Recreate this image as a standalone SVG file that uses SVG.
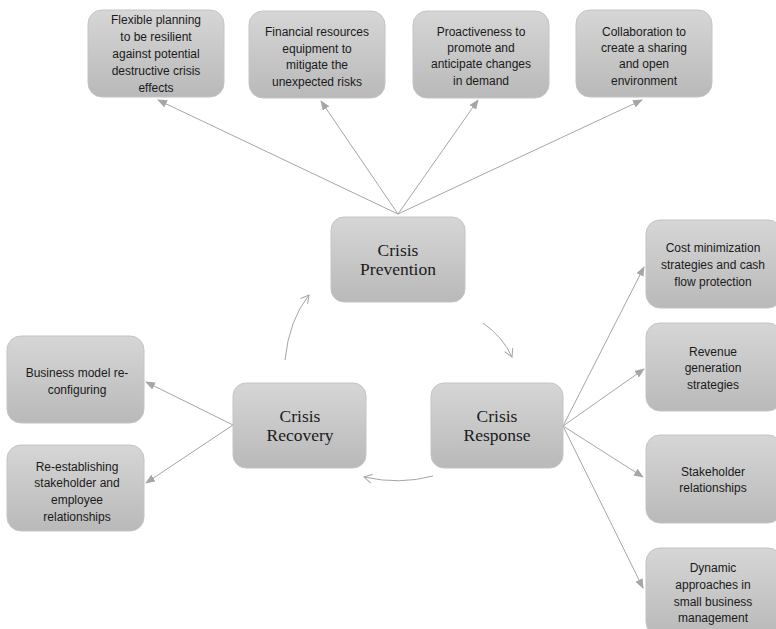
<svg xmlns="http://www.w3.org/2000/svg" width="776" height="629" viewBox="0 0 776 629">
<style>
.box{fill:url(#g);stroke:#c4c4c4;stroke-width:1}
.t{font-family:"Liberation Sans",Arial,sans-serif;font-size:12px;fill:#1a1a1a;text-anchor:middle}
.m{font-family:"Liberation Serif","Times New Roman",serif;font-size:17.5px;fill:#1a1a1a;text-anchor:middle}
.c{stroke:#a6a6a6;stroke-width:1;fill:none}
</style>
<defs>
<linearGradient id="g" x1="0" y1="0" x2="0" y2="1">
<stop offset="0" stop-color="#d6d6d6"/>
<stop offset="1" stop-color="#b9b9b9"/>
</linearGradient>
<marker id="a" markerWidth="10" markerHeight="8" refX="9" refY="4" orient="auto" markerUnits="userSpaceOnUse">
<path d="M0,0 L10,4 L0,8 Z" fill="#a6a6a6"/>
</marker>
<marker id="o" markerWidth="10" markerHeight="10" refX="9" refY="5" orient="auto" markerUnits="userSpaceOnUse">
<path d="M1,0.5 L9,5 L1,9.5" fill="none" stroke="#a6a6a6" stroke-width="1"/>
</marker>
</defs>
<g id="connectors">
<line class="c" x1="398" y1="214" x2="158" y2="100" marker-end="url(#a)"/>
<line class="c" x1="398" y1="214" x2="321" y2="101" marker-end="url(#a)"/>
<line class="c" x1="398" y1="214" x2="478" y2="100" marker-end="url(#a)"/>
<line class="c" x1="398" y1="214" x2="642" y2="100" marker-end="url(#a)"/>
<line class="c" x1="563" y1="426" x2="644" y2="267" marker-end="url(#a)"/>
<line class="c" x1="563" y1="426" x2="644" y2="369" marker-end="url(#a)"/>
<line class="c" x1="563" y1="426" x2="643" y2="477" marker-end="url(#a)"/>
<line class="c" x1="563" y1="426" x2="643" y2="588" marker-end="url(#a)"/>
<line class="c" x1="233" y1="425" x2="146" y2="382" marker-end="url(#a)"/>
<line class="c" x1="233" y1="425" x2="146" y2="483" marker-end="url(#a)"/>
<path class="c" d="M483,323 Q503,337 512,357" marker-end="url(#o)"/>
<path class="c" d="M433,476 Q400,485 364,477" marker-end="url(#o)"/>
<path class="c" d="M285,360 Q289,320 309,295" marker-end="url(#o)"/>
</g>
<g id="n1"><rect class="box" x="88" y="10" width="136" height="87" rx="14"/>
<text class="t"><tspan x="156" y="24">Flexible planning</tspan><tspan x="156" y="41">to be resilient</tspan><tspan x="156" y="58">against potential</tspan><tspan x="156" y="75">destructive crisis</tspan><tspan x="156" y="92">effects</tspan></text></g>
<g id="n2"><rect class="box" x="249" y="11" width="136" height="87" rx="14"/>
<text class="t"><tspan x="317" y="36">Financial resources</tspan><tspan x="317" y="53">equipment to</tspan><tspan x="317" y="69">mitigate the</tspan><tspan x="317" y="86">unexpected risks</tspan></text></g>
<g id="n3"><rect class="box" x="413" y="11" width="136" height="87" rx="14"/>
<text class="t"><tspan x="481" y="36">Proactiveness to</tspan><tspan x="481" y="52">promote and</tspan><tspan x="481" y="68">anticipate changes</tspan><tspan x="481" y="85">in demand</tspan></text></g>
<g id="n4"><rect class="box" x="576" y="10" width="136" height="87" rx="14"/>
<text class="t"><tspan x="644" y="36">Collaboration to</tspan><tspan x="644" y="52">create a sharing</tspan><tspan x="644" y="68">and open</tspan><tspan x="644" y="85">environment</tspan></text></g>
<g id="prevention"><rect class="box" x="331" y="217" width="134" height="85" rx="13"/>
<text class="m"><tspan x="398" y="256">Crisis</tspan><tspan x="398" y="275">Prevention</tspan></text></g>
<g id="recovery"><rect class="box" x="233" y="383" width="133" height="85" rx="13"/>
<text class="m"><tspan x="300" y="422">Crisis</tspan><tspan x="300" y="441">Recovery</tspan></text></g>
<g id="response"><rect class="box" x="431" y="383" width="132" height="85" rx="13"/>
<text class="m"><tspan x="497" y="422">Crisis</tspan><tspan x="497" y="441">Response</tspan></text></g>
<g id="l1"><rect class="box" x="7" y="336" width="137" height="87" rx="14"/>
<text class="t"><tspan x="77" y="377">Business model re-</tspan><tspan x="77" y="394">configuring</tspan></text></g>
<g id="l2"><rect class="box" x="7" y="445" width="137" height="86" rx="14"/>
<text class="t"><tspan x="77" y="471">Re-establishing</tspan><tspan x="77" y="487">stakeholder and</tspan><tspan x="77" y="504">employee</tspan><tspan x="77" y="521">relationships</tspan></text></g>
<g id="r1"><rect class="box" x="646" y="220" width="136" height="88" rx="14"/>
<text class="t"><tspan x="713" y="252">Cost minimization</tspan><tspan x="713" y="269">strategies and cash</tspan><tspan x="713" y="286">flow protection</tspan></text></g>
<g id="r2"><rect class="box" x="646" y="323" width="136" height="88" rx="14"/>
<text class="t"><tspan x="713" y="356">Revenue</tspan><tspan x="713" y="372">generation</tspan><tspan x="713" y="389">strategies</tspan></text></g>
<g id="r3"><rect class="box" x="646" y="435" width="136" height="88" rx="14"/>
<text class="t"><tspan x="713" y="476">Stakeholder</tspan><tspan x="713" y="492">relationships</tspan></text></g>
<g id="r4"><rect class="box" x="646" y="548" width="136" height="88" rx="14"/>
<text class="t"><tspan x="713" y="572">Dynamic</tspan><tspan x="713" y="589">approaches in</tspan><tspan x="713" y="606">small business</tspan><tspan x="713" y="622">management</tspan></text></g>
</svg>
